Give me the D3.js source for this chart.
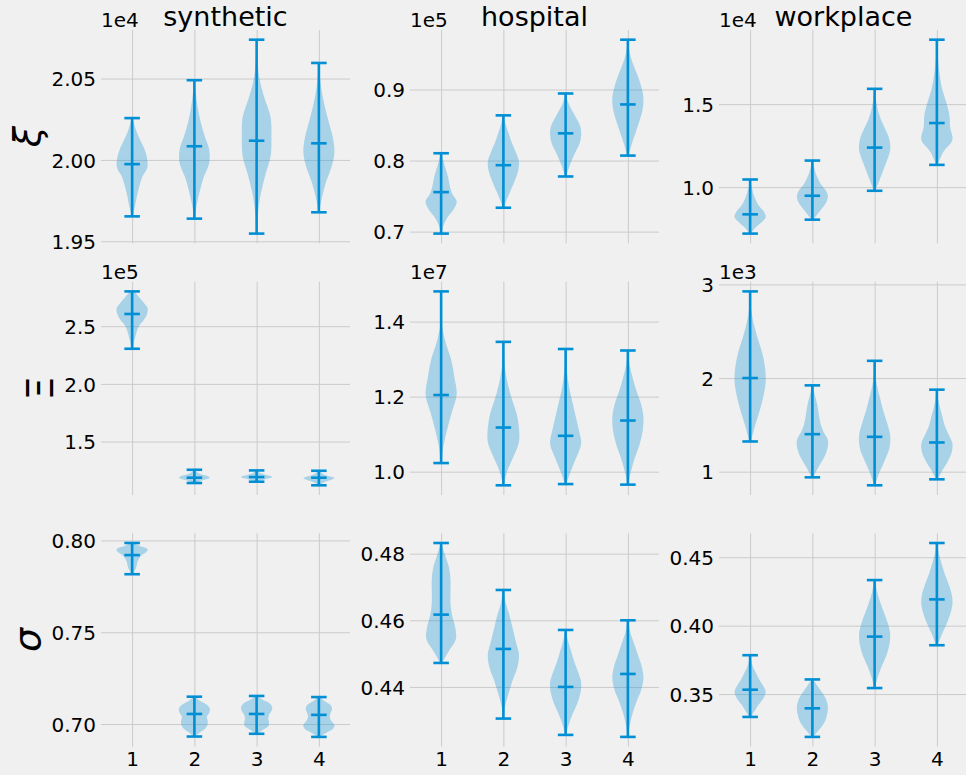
<!DOCTYPE html>
<html>
<head>
<meta charset="utf-8">
<script src="https://cdn.jsdelivr.net/npm/d3@7"></script>
<style>
  html, body { margin: 0; padding: 0; background: #f0f0f0; }
  svg { display: block; }
  text { font-family: "DejaVu Sans", sans-serif; fill: #000; }
</style>
</head>
<body>
<svg id="chart" width="966" height="775"></svg>
<script>
// ---------------- data ----------------
const categories = [1, 2, 3, 4];
const columnTitles = ["synthetic", "hospital", "workplace"];
const rowLabels = ["ξ", "Ξ", "σ"];
const rowLabelItalic = [true, false, true];
const offsetLabels = [["1e4", "1e5", "1e4"], ["1e5", "1e7", "1e3"], ["", "", ""]];

// y tick values per panel (row-major)
const yTickValues = [
  [1.95, 2.00, 2.05], [0.7, 0.8, 0.9], [1.0, 1.5],
  [1.5, 2.0, 2.5], [1.0, 1.2, 1.4], [1, 2, 3],
  [0.70, 0.75, 0.80], [0.44, 0.46, 0.48], [0.35, 0.40, 0.45]
];
const yTickLabels = [
  ["1.95", "2.00", "2.05"], ["0.7", "0.8", "0.9"], ["1.0", "1.5"],
  ["1.5", "2.0", "2.5"], ["1.0", "1.2", "1.4"], ["1", "2", "3"],
  ["0.70", "0.75", "0.80"], ["0.44", "0.46", "0.48"], ["0.35", "0.40", "0.45"]
];

// violin minima / maxima / centre line per panel (values in the units shown by the offset labels)
const violinMin = [
  [1.9653, 1.9639, 1.9547, 1.9678],
  [0.6972, 0.7336, 0.7776, 0.8070],
  [0.720, 0.804, 0.978, 1.134],
  [2.3046, 1.1408, 1.152, 1.121],
  [1.023, 0.9637, 0.967, 0.9655],
  [1.3227, 0.9397, 0.8546, 0.9184],
  [0.7816, 0.6932, 0.6947, 0.6930],
  [0.4472, 0.4305, 0.4256, 0.4250],
  [0.3333, 0.3187, 0.3544, 0.3857]
];
const violinMax = [
  [2.0257, 2.0490, 2.0739, 2.0596],
  [0.8103, 0.8636, 0.8944, 0.9701],
  [1.046, 1.160, 1.592, 1.888],
  [2.8017, 1.2557, 1.250, 1.247],
  [1.4805, 1.346, 1.327, 1.323],
  [2.9255, 1.922, 2.184, 1.876],
  [0.7986, 0.7149, 0.7153, 0.7147],
  [0.4832, 0.4691, 0.4571, 0.4600],
  [0.3784, 0.3607, 0.4333, 0.4604]
];
const violinMean = [
  [1.9974, 2.0084, 2.0118, 2.0102],
  [0.7556, 0.7935, 0.8383, 0.8790],
  [0.836, 0.948, 1.238, 1.386],
  [2.606, 1.187, 1.1925, 1.187],
  [1.2044, 1.1177, 1.0956, 1.1363],
  [2.000, 1.4007, 1.3723, 1.312],
  [0.792, 0.7055, 0.7055, 0.705],
  [0.4617, 0.4514, 0.4400, 0.4439],
  [0.3532, 0.3396, 0.392, 0.4192]
];
// relative density (0..1) at 11 evenly spaced levels from min (first) to max (last)
const violinDensity = [
  [[0.02,0.18,0.3,0.45,0.65,0.98,0.95,0.75,0.45,0.2,0.03],
   [0.02,0.15,0.35,0.6,0.95,0.95,0.65,0.4,0.22,0.1,0.02],
   [0.02,0.08,0.25,0.55,0.9,0.95,0.9,0.5,0.18,0.05,0.01],
   [0.03,0.2,0.45,0.8,1.0,0.9,0.65,0.4,0.2,0.08,0.02]],
  [[0.02,0.15,0.4,0.8,1.0,0.7,0.55,0.45,0.3,0.15,0.03],
   [0.03,0.25,0.5,0.75,0.95,1.0,0.8,0.55,0.35,0.15,0.03],
   [0.03,0.2,0.4,0.65,0.9,1.0,0.95,0.7,0.4,0.15,0.03],
   [0.05,0.25,0.5,0.75,0.95,1.0,0.85,0.6,0.3,0.1,0.02]],
  [[0.05,0.3,0.7,1.0,0.9,0.6,0.4,0.25,0.15,0.07,0.02],
   [0.05,0.35,0.65,0.9,1.0,0.85,0.55,0.35,0.2,0.1,0.03],
   [0.05,0.3,0.55,0.8,1.0,0.95,0.7,0.4,0.2,0.08,0.02],
   [0.05,0.4,1.0,0.85,0.8,0.6,0.35,0.2,0.1,0.04,0.02]],
  [[0.05,0.1,0.2,0.3,0.45,0.75,0.95,1.0,0.75,0.45,0.15],
   [0.08,0.25,0.5,0.8,1.0,0.9,0.6,0.35,0.2,0.1,0.04],
   [0.08,0.25,0.5,0.8,1.0,0.9,0.6,0.35,0.2,0.1,0.04],
   [0.05,0.15,0.3,0.55,0.85,1.0,0.75,0.45,0.25,0.12,0.04]],
  [[0.02,0.15,0.4,0.7,1.0,0.85,0.65,0.3,0.06,0.02,0.01],
   [0.02,0.25,0.65,1.0,1.0,0.85,0.55,0.3,0.12,0.04,0.01],
   [0.03,0.35,0.7,1.0,0.85,0.65,0.45,0.25,0.12,0.04,0.01],
   [0.03,0.2,0.45,0.75,0.95,1.0,0.85,0.55,0.3,0.1,0.02]],
  [[0.05,0.3,0.6,0.85,1.0,0.95,0.75,0.45,0.2,0.05,0.01],
   [0.05,0.35,0.7,0.95,1.0,0.7,0.5,0.4,0.3,0.15,0.03],
   [0.03,0.3,0.65,0.95,1.0,0.8,0.55,0.35,0.15,0.05,0.01],
   [0.05,0.35,0.7,0.95,1.0,0.75,0.5,0.35,0.2,0.08,0.02]],
  [[0.05,0.15,0.25,0.3,0.35,0.45,0.6,0.9,1.0,0.5,0.1],
   [0.05,0.35,0.7,0.85,0.85,0.8,0.95,1.0,0.8,0.35,0.05],
   [0.05,0.4,0.75,0.8,0.75,0.8,0.95,1.0,0.85,0.4,0.05],
   [0.05,0.45,0.9,1.0,0.8,0.7,0.75,0.85,0.75,0.35,0.05]],
  [[0.05,0.5,0.95,0.9,0.7,0.6,0.6,0.6,0.5,0.25,0.03],
   [0.02,0.12,0.35,0.6,0.9,1.0,0.8,0.6,0.4,0.15,0.03],
   [0.02,0.2,0.45,0.75,0.95,1.0,0.8,0.55,0.35,0.15,0.03],
   [0.02,0.12,0.3,0.55,0.85,1.0,0.9,0.65,0.4,0.15,0.03]],
  [[0.05,0.3,0.55,0.85,1.0,0.85,0.6,0.4,0.2,0.08,0.02],
   [0.05,0.35,0.65,0.85,0.95,1.0,0.95,0.8,0.55,0.3,0.05],
   [0.03,0.2,0.45,0.75,0.95,1.0,0.85,0.6,0.35,0.15,0.03],
   [0.05,0.3,0.6,0.85,1.0,0.95,0.75,0.5,0.3,0.12,0.03]]
];

// ---------------- layout / style ----------------
const colLeft = [101, 410, 719];
const rowTop = [30, 281.7, 533.3];
const axW = 249, axH = 213.3;
const ylabelX = [40, 53, 40];
const COLOR = "#008fd5";
const GRID = "#cbcbcb";

const svg = d3.select("#chart");
svg.append("rect").attr("width", 966).attr("height", 775).attr("fill", "#f0f0f0");

for (let r = 0; r < 3; r++) {
  for (let c = 0; c < 3; c++) {
    const p = r * 3 + c;
    const left = colLeft[c], top = rowTop[r];
    const lo = d3.min(violinMin[p]), hi = d3.max(violinMax[p]);
    const m = (hi - lo) * 0.05;
    const x = d3.scaleLinear().domain([0.5, 4.5]).range([left, left + axW]);
    const y = d3.scaleLinear().domain([lo - m, hi + m]).range([top + axH, top]);
    const g = svg.append("g");

    // grid via axes
    const gy = g.append("g").attr("transform", `translate(${left},0)`)
      .call(d3.axisLeft(y).tickValues(yTickValues[p]).tickSize(-axW)
        .tickFormat((d, i) => yTickLabels[p][i]).tickPadding(5));
    gy.select(".domain").remove();
    gy.selectAll("line").attr("stroke", GRID).attr("stroke-width", 1);
    gy.selectAll("text").attr("font-size", 20).attr("fill", "#000")
      .attr("font-family", "DejaVu Sans").attr("dy", "0.36em");

    const gx = g.append("g").attr("transform", `translate(0,${top + axH})`)
      .call(d3.axisBottom(x).tickValues(categories).tickSize(-axH).tickPadding(4)
        .tickFormat(d => r === 2 ? String(d) : ""));
    gx.select(".domain").remove();
    gx.selectAll("line").attr("stroke", GRID).attr("stroke-width", 1);
    gx.selectAll("text").attr("font-size", 20).attr("fill", "#000")
      .attr("font-family", "DejaVu Sans").attr("dy", "0.78em");

    // violins
    const n = violinDensity[p][0].length;
    categories.forEach((cat, i) => {
      const mn = violinMin[p][i], mx = violinMax[p][i];
      const pts = violinDensity[p][i].map((w, k) => ({ v: mn + (mx - mn) * k / (n - 1), w }));
      const area = d3.area()
        .y(d => y(d.v))
        .x0(d => x(cat - 0.25 * Math.max(0, d.w)))
        .x1(d => x(cat + 0.25 * Math.max(0, d.w)))
        .curve(d3.curveCatmullRom.alpha(0.5));
      g.append("path").attr("d", area(pts)).attr("fill", COLOR).attr("fill-opacity", 0.3);

      const lw = 2.6;
      g.append("line").attr("x1", x(cat)).attr("x2", x(cat)).attr("y1", y(mn)).attr("y2", y(mx))
        .attr("stroke", COLOR).attr("stroke-width", lw);
      [mn, mx, violinMean[p][i]].forEach(v => {
        g.append("line").attr("x1", x(cat - 0.125)).attr("x2", x(cat + 0.125))
          .attr("y1", y(v)).attr("y2", y(v)).attr("stroke", COLOR).attr("stroke-width", lw);
      });
    });

    // offset text
    if (offsetLabels[r][c]) {
      g.append("text").attr("x", left).attr("y", top - 3).attr("font-size", 20)
        .text(offsetLabels[r][c]);
    }
    // titles
    if (r === 0) {
      g.append("text").attr("x", left + axW / 2).attr("y", top - 4).attr("text-anchor", "middle")
        .attr("font-size", 27).text(columnTitles[c]);
    }
    // row labels
    if (c === 0) {
      const cy = top + axH / 2;
      g.append("text").attr("transform", `translate(${ylabelX[r]},${cy}) rotate(-90)`)
        .attr("text-anchor", "middle").attr("font-size", 38)
        .attr("font-style", rowLabelItalic[r] ? "italic" : "normal")
        .text(rowLabels[r]);
    }
  }
}
</script>
</body>
</html>
